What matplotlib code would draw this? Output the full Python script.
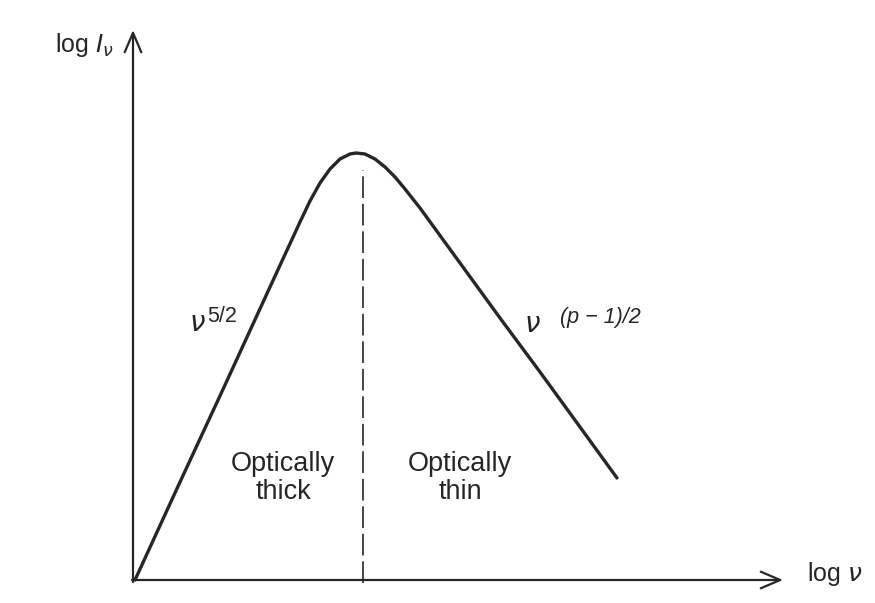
import matplotlib
matplotlib.use('Agg')
import matplotlib.pyplot as plt

# Synchrotron self-absorbed spectrum (arbitrary log units)
log_nu = [0.00, 0.45, 0.90, 1.35, 1.65, 1.75, 1.85, 1.95, 2.05, 2.15, 2.21,
          2.30, 2.40, 2.50, 2.60, 2.70, 2.85, 3.25, 3.65, 4.05, 4.45, 4.82]
log_I = [0.00, 0.98, 1.95, 2.93, 3.58, 3.79, 3.97, 4.11, 4.21, 4.26, 4.27,
         4.26, 4.21, 4.13, 4.03, 3.91, 3.72, 3.17, 2.62, 2.08, 1.53, 1.02]

nu_break = 2.28       # turnover frequency (dashed line)
break_top = 4.10
x_axis_end = 6.48
y_axis_end = 5.50

ink = '#262626'
plt.rcParams['font.family'] = ['Liberation Sans', 'DejaVu Sans']
plt.rcParams['mathtext.fontset'] = 'dejavusans'

fig = plt.figure(figsize=(8.75, 6.03), dpi=100)
ax = fig.add_axes([0, 0, 1, 1])
ax.set_xlim(-1.35, 7.40)
ax.set_ylim(-0.23, 5.80)
ax.axis('off')

# axes with open arrow heads
arrow = dict(arrowstyle='->,head_length=0.7,head_width=0.3', lw=1.6,
             color=ink, mutation_scale=20, shrinkA=0, shrinkB=0)
ax.annotate('', xy=(-0.02, y_axis_end), xytext=(-0.02, -0.02), arrowprops=arrow)
ax.annotate('', xy=(x_axis_end, 0), xytext=(-0.03, 0), arrowprops=arrow)

# spectrum
ax.plot(log_nu, log_I, color=ink, lw=2.4, solid_capstyle='round',
        solid_joinstyle='round')

# turnover
ax.plot([nu_break, nu_break], [-0.03, break_top], color=ink, lw=1.2,
        linestyle=(0, (13, 3.5)))

# labels
ax.text(-0.50, 5.35, r'log $I_\nu$', fontsize=18, color=ink, ha='center',
        va='center')
ax.text(7.0, 0.06, r'log $\nu$', fontsize=18, color=ink, ha='center',
        va='center')

ax.text(0.62, 2.56, r'$\nu$', fontsize=20, color=ink, ha='center', va='center')
ax.text(0.72, 2.64, '5/2', fontsize=15.5, color=ink, ha='left', va='center')
ax.text(3.97, 2.55, r'$\nu$', fontsize=20, color=ink, ha='center', va='center')
ax.text(4.25, 2.62, '(p \u2212 1)/2', fontsize=15.5, color=ink, ha='left',
        va='center', style='italic')

ax.text(1.48, 1.02, 'Optically\nthick', fontsize=19.5, color=ink, ha='center',
        va='center', linespacing=1.1)
ax.text(3.25, 1.02, 'Optically\nthin', fontsize=19.5, color=ink, ha='center',
        va='center', linespacing=1.1)

fig.savefig('out.png', dpi=100, facecolor='white')
